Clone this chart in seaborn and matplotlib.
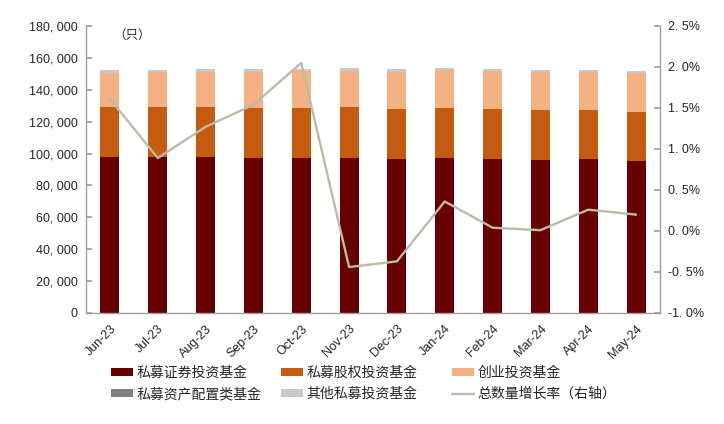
import matplotlib
matplotlib.use("Agg")
import matplotlib.pyplot as plt
import seaborn as sns
import numpy as np
import pandas as pd
from matplotlib.ticker import FuncFormatter, MultipleLocator
from matplotlib.patches import Patch
from matplotlib.lines import Line2D

months = ["Jun-23", "Jul-23", "Aug-23", "Sep-23", "Oct-23", "Nov-23",
          "Dec-23", "Jan-24", "Feb-24", "Mar-24", "Apr-24", "May-24"]
securities = [97800, 98000, 97700, 97400, 97400, 97400, 96800, 97000, 96800, 96150, 96400, 95300]
equity = [31400, 31400, 31500, 31350, 31350, 31600, 31350, 31550, 31150, 31000, 30750, 30950]
venture = [21500, 21950, 22100, 22600, 23000, 22950, 23200, 23650, 23850, 24200, 24200, 24450]
asset_alloc = [40, 40, 40, 40, 40, 40, 40, 40, 40, 40, 40, 40]
other = [1460, 1210, 1460, 1460, 1410, 1660, 1460, 1410, 1210, 1010, 1010, 1010]
growth = [1.61, 0.89, 1.27, 1.54, 2.05, -0.44, -0.37, 0.36, 0.04, 0.01, 0.26, 0.20]

names = ["私募证券投资基金", "私募股权投资基金", "创业投资基金", "私募资产配置类基金", "其他私募投资基金"]
line_name = "总数量增长率（右轴）"
colors = ["#660000", "#C55A11", "#F4B183", "#808080", "#C8C8C8"]
line_color = "#BDBAA6"

sns.set_theme(style="white")
plt.rcParams['font.family'] = ['Liberation Sans', 'Noto Sans CJK SC', 'DejaVu Sans']
plt.rcParams['axes.unicode_minus'] = False

fig = plt.figure(figsize=(7.24, 4.24), dpi=100)
ax = fig.add_axes([0.1188, 0.2618, 0.7928, 0.6769])

series = [securities, equity, venture, asset_alloc, other]
bottom = np.zeros(len(months))
for vals, name, c in zip(series, names, colors):
    df = pd.DataFrame({"month": months, "value": vals})
    sns.barplot(data=df, x="month", y="value", order=months, color=c,
                width=0.4, bottom=bottom, ax=ax, saturation=1,
                edgecolor="none", linewidth=0, errorbar=None)
    bottom = bottom + np.array(vals)

ax.set_xlim(-0.5, len(months) - 0.5)
ax.set_ylim(0, 180000)
ax.yaxis.set_major_locator(MultipleLocator(20000))
ax.yaxis.set_major_formatter(FuncFormatter(lambda v, p: f"{int(v):,}".replace(",", ", ")))
ax.set_xlabel("")
ax.set_ylabel("")
ax.set_xticks(range(len(months)))
ax.set_xticklabels(months, rotation=45, ha="right", rotation_mode="anchor", fontsize=9)
ax.set_xticks(np.arange(-0.5, len(months), 1), minor=True)
ax.tick_params(axis="x", which="major", length=0, pad=7)
ax.tick_params(axis="x", which="minor", length=4, direction="in", color="#A0A0A0")
ax.tick_params(axis="y", length=4, direction="in", color="#A0A0A0", labelsize=9, pad=6)

for s in ["top", "right"]:
    ax.spines[s].set_visible(False)
for s in ["left", "bottom"]:
    ax.spines[s].set_color("#A0A0A0")
    ax.spines[s].set_linewidth(1)

ax2 = ax.twinx()
gdf = pd.DataFrame({"pos": np.arange(len(months)), "growth": growth})
sns.lineplot(data=gdf, x="pos", y="growth", ax=ax2, color=line_color, linewidth=1.7)
ax2.set_ylim(-1.0, 2.5)
ax2.yaxis.set_major_locator(MultipleLocator(0.5))
ax2.yaxis.set_major_formatter(FuncFormatter(lambda v, p: f"{v:.1f}".replace(".", ". ") + "%"))
ax2.set_xlim(-0.5, len(months) - 0.5)
ax2.set_xlabel("")
ax2.set_ylabel("")
ax2.tick_params(axis="y", length=4, direction="in", color="#A0A0A0", labelsize=9, pad=6)
for s in ["top", "left", "bottom"]:
    ax2.spines[s].set_visible(False)
ax2.spines["right"].set_color("#A0A0A0")
ax2.spines["right"].set_linewidth(1)

ax.text(0.047, 0.985, "（只）", transform=ax.transAxes, fontsize=9, va="top", ha="left")

handles = [Patch(facecolor=c, edgecolor="none") for c in colors]
lh = Line2D([], [], color=line_color, linewidth=1.7)
columns = [
    ([handles[0], handles[3]], [names[0], names[3]], 111),
    ([handles[1], handles[4]], [names[1], names[4]], 281),
    ([handles[2], lh], [names[2], line_name], 452),
]
for hs, ls, xpx in columns:
    fig.legend(hs, ls, ncol=1, frameon=False, loc="upper left",
               bbox_to_anchor=(xpx / 724, 1 - 366 / 424), borderpad=0,
               borderaxespad=0, fontsize=10, handlelength=1.6,
               handleheight=0.45, handletextpad=0.25, labelspacing=0.5)

fig.savefig("out.png", dpi=100)
